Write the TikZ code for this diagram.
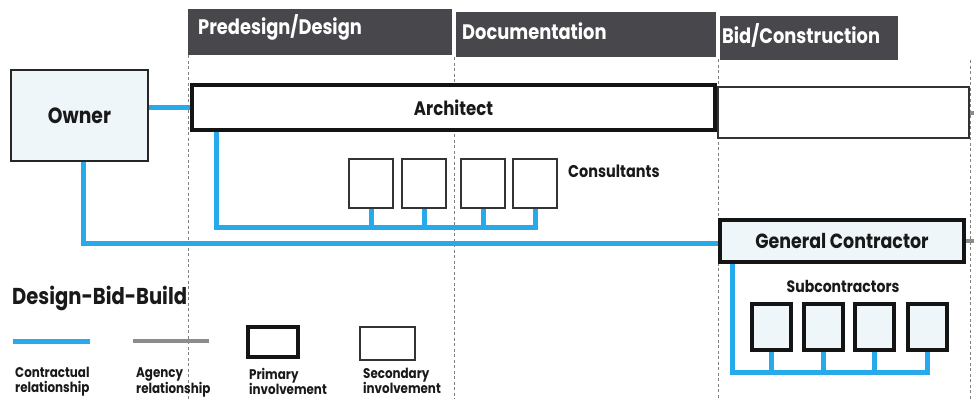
\documentclass[tikz,border=0pt]{standalone}
\usepackage{fontspec}
\setmainfont{Poppins}[FakeStretch=0.85]
\definecolor{cblue}{RGB}{38,170,235}
\definecolor{hdrgray}{RGB}{72,72,76}
\definecolor{lightfill}{RGB}{238,246,249}
\definecolor{agencygray}{RGB}{140,140,140}
\tikzset{
  blueline/.style={draw=cblue, line width=5pt},
  agencyline/.style={draw=agencygray, line width=4pt},
  divider/.style={draw=black!50, line width=0.7pt, dash pattern=on 3pt off 2.5pt},
  hdrbar/.style={fill=hdrgray, draw=none, anchor=north west, inner sep=0pt},
  hdrtext/.style={text=white, font=\bfseries\fontsize{21}{24}\selectfont, anchor=west, inner sep=0pt},
  thickbox/.style={draw=black!92, line width=4pt, inner sep=0pt},
  thinbox/.style={draw=black!80, line width=1.1pt, fill=white, inner sep=0pt},
  lbl/.style={font=\bfseries\fontsize{#1}{#1}\selectfont, text=black!90, inner sep=0pt},
  legtext/.style={font=\bfseries\fontsize{14}{15}\selectfont, text=black!90, align=left, anchor=north west, inner sep=0pt},
}
\begin{document}
\begin{tikzpicture}[x=1pt,y=-1pt]
\useasboundingbox (0,0) rectangle (974,399);
% dividers
\draw[divider] (188,55) -- (188,399);
\draw[divider] (454,57) -- (454,399);
\draw[divider] (718,59) -- (718,399);
\draw[divider] (970,60) -- (970,399);
% header bars
\node[hdrbar, minimum width=264pt, minimum height=46pt] (h1) at (188,9) {};
\node[hdrbar, minimum width=260pt, minimum height=45pt] (h2) at (456,12) {};
\node[hdrbar, minimum width=178pt, minimum height=44pt] (h3) at (720,16) {};
\node[hdrtext] (t1) at (198,27) {Predesign/Design};
\node[hdrtext] (t2) at (462,31) {Documentation};
\node[hdrtext] (t3) at (722,35) {Bid/Construction};
% main boxes
\node[draw=black!85, line width=1.2pt, fill=lightfill, minimum width=137pt, minimum height=91pt, inner sep=0pt, lbl=22] (owner) at (79.5,115.5) {Owner};
\node[thinbox, minimum width=251pt, minimum height=51pt] (sec) at (843.5,112.5) {};
\node[thickbox, fill=white, minimum width=523pt, minimum height=45pt, lbl=19.5] (arch) at (453.5,107.5) {Architect};
\node[thickbox, fill=lightfill, minimum width=244pt, minimum height=42pt, lbl=20.5] (gc) at (842,241) {General Contractor};
% consultants
\foreach \n/\x in {c1/371, c2/424, c3/483, c4/535}
  \node[thinbox, minimum width=44pt, minimum height=49pt] (\n) at (\x,183.5) {};
\node[lbl=17, anchor=west] (cons) at (568,171) {Consultants};
% subcontractors
\foreach \n/\x in {s1/771, s2/823.5, s3/874, s4/927}
  \node[thickbox, fill=lightfill, minimum width=39pt, minimum height=46pt] (\n) at (\x,327) {};
\node[lbl=16.5] (subs) at (843,286) {Subcontractors};
% contractual links
\draw[blueline] (owner.east |- arch.west) -- (arch.west);
\draw[blueline, line join=miter] ([xshift=26pt]arch.south west) |- (c4.south |- 0,227) -- (c4.south);
\foreach \n in {c1,c2,c3} \draw[blueline] (\n.south) -- (\n.south |- 0,227);
\draw[blueline, line join=miter] ([xshift=3.5pt]owner.south) |- (gc.west |- 0,243);
\draw[blueline, line join=miter] ([xshift=14pt]gc.south west) |- (s4.south |- 0,372) -- (s4.south);
\foreach \n in {s1,s2,s3} \draw[blueline] (\n.south) -- (\n.south |- 0,372);
% agency stubs going off page
\draw[agencyline] (sec.east) -- ++(8,0);
\draw[agencyline] (gc.east) -- ++(10,0);
% legend
\node[lbl=23, anchor=west] (dbb) at (12,298) {Design-Bid-Build};
\coordinate (la1) at (13,341); \coordinate (lb1) at (90,341);
\draw[blueline] (la1) -- (lb1);
\coordinate (la2) at (133,341); \coordinate (lb2) at (209,341);
\draw[agencyline] (la2) -- (lb2);
\node[thickbox, fill=white, minimum width=50pt, minimum height=30pt] (lprim) at (273,342) {};
\node[thinbox, minimum width=55pt, minimum height=33pt] (lsec) at (387.5,343.5) {};
\node[legtext] (lt1) at (15,367) {Contractual\\relationship};
\node[legtext] (lt2) at (136,367) {Agency\\relationship};
\node[legtext] (lt3) at (249,368) {Primary\\involvement};
\node[legtext] (lt4) at (363,368) {Secondary\\involvement};
\end{tikzpicture}
\end{document}
